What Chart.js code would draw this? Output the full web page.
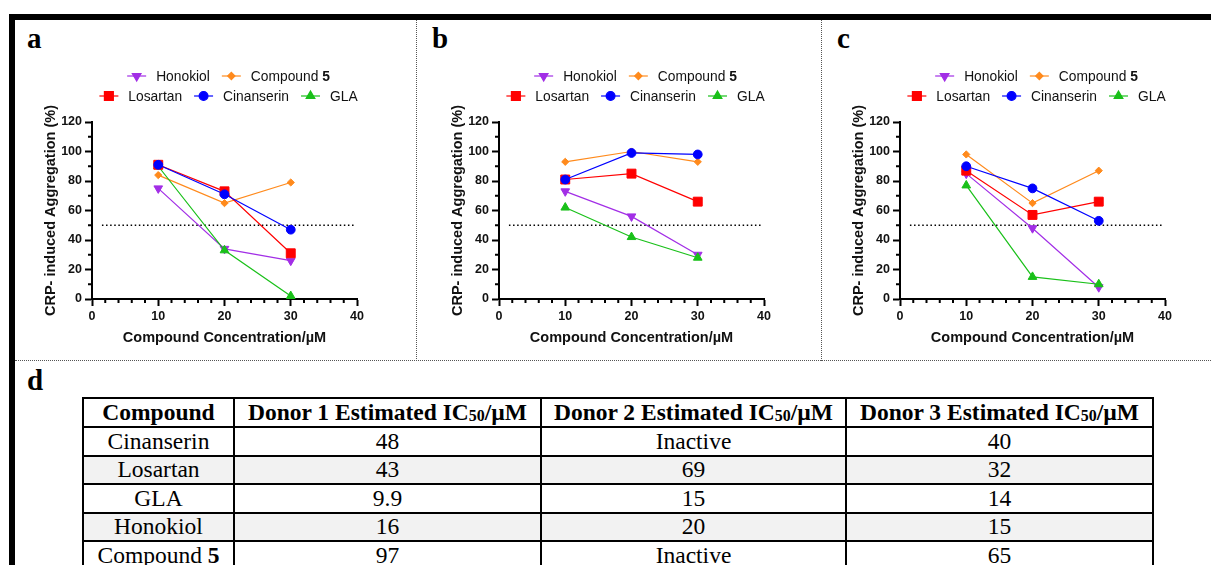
<!DOCTYPE html>
<html>
<head>
<meta charset="utf-8">
<script src="https://cdn.jsdelivr.net/npm/chart.js@4/dist/chart.umd.min.js"></script>
<style>
    html, body { margin: 0; padding: 0; background: #fff; }
    body { width: 1211px; height: 565px; position: relative; overflow: hidden; }
    .bar { position: absolute; background: #000; }
    .vdot { position: absolute; top: 20px; height: 341px; border-left: 1px dotted #555; }
    .hdot { position: absolute; left: 15px; top: 360px; width: 1196px; border-top: 1px dotted #555; }
    .letter { position: absolute; font: bold 29px 'Liberation Serif', 'Times New Roman', serif; line-height: 29px; color: #000; }
    canvas { position: absolute; top: 22px; }
    table {
        position: absolute; left: 82px; top: 397px; width: 1070px;
        border-collapse: collapse; table-layout: fixed;
        font-family: 'Liberation Serif', 'Times New Roman', serif; font-size: 23.5px; color: #000;
    }
    th, td { border: 2px solid #000; padding: 0; text-align: center; line-height: 1; }
    th { height: 27px; font-weight: bold; }
    td { height: 26.5px; }
    tr.shade td { background: #f2f2f2; }
    sub { font-size: 0.68em; vertical-align: -0.05em; }
</style>
</head>
<body>
<div class="bar" style="left:9px; top:14px; width:1202px; height:6px;"></div>
<div class="bar" style="left:9px; top:14px; width:6px; height:551px;"></div>
<div class="vdot" style="left:416px;"></div>
<div class="vdot" style="left:821px;"></div>
<div class="hdot"></div>

<div class="letter" style="left:27px; top:24px;">a</div>
<div class="letter" style="left:432px; top:24px;">b</div>
<div class="letter" style="left:837px; top:24px;">c</div>
<div class="letter" style="left:27px; top:366px;">d</div>

<canvas id="chart-a" width="340" height="329" style="left:38px;"></canvas>
<canvas id="chart-b" width="340" height="329" style="left:445px;"></canvas>
<canvas id="chart-c" width="340" height="329" style="left:846px;"></canvas>

<table id="ic50-table">
    <colgroup>
        <col style="width:151px"><col style="width:307px"><col style="width:305px"><col style="width:307px">
    </colgroup>
    <thead></thead>
    <tbody></tbody>
</table>

<script>
// x values shared by all three panels (µM)
const concentrations = [10, 20, 30];

// Donor 1 (panel a)
const honokiolA = [75, 34, 26];
const compound5A = [84, 65, 79];
const losartanA = [91, 73, 31];
const cinanserinA = [91, 71, 47];
const glaA = [90, 33, 2];

// Donor 2 (panel b)
const honokiolB = [73, 56, 30];
const compound5B = [93, 100, 93];
const losartanB = [81, 85, 66];
const cinanserinB = [81, 99, 98];
const glaB = [62, 42, 28];

// Donor 3 (panel c)
const honokiolC = [85, 48, 8];
const compound5C = [98, 65, 87];
const losartanC = [87, 57, 66];
const cinanserinC = [90, 75, 53];
const glaC = [77, 15, 10];

// 50 % reference line
const thresholdValue = 50;
const thresholdFrom = 1.5;
const thresholdTo = 39.5;

// table (panel d)
const tableHeaders = ['Compound', 'Donor 1 Estimated IC<sub>50</sub>/µM', 'Donor 2 Estimated IC<sub>50</sub>/µM', 'Donor 3 Estimated IC<sub>50</sub>/µM'];
const tableCompounds = ['Cinanserin', 'Losartan', 'GLA', 'Honokiol', 'Compound <b>5</b>'];
const donor1IC50 = ['48', '43', '9.9', '16', '97'];
const donor2IC50 = ['Inactive', '69', '15', '20', 'Inactive'];
const donor3IC50 = ['40', '32', '14', '15', '65'];

const legendRows = [['Honokiol', 'Compound 5'], ['Losartan', 'Cinanserin', 'GLA']];

const SANS = "'Liberation Sans', Arial, sans-serif";

// look of each compound (order = drawing order, lower is on top)
const seriesStyle = {
    'Honokiol':   { color: '#a22ee6', pointStyle: 'triangle', rotation: 180, radius: 5, order: 5 },
    'Compound 5': { color: '#ff8a1c', pointStyle: 'rectRot', rotation: 0, radius: 3.6, order: 4 },
    'Losartan':   { color: '#ff0000', pointStyle: 'rect', rotation: 0, radius: 6.3, order: 2 },
    'Cinanserin': { color: '#0000ff', pointStyle: 'circle', rotation: 0, radius: 4.4, order: 1 },
    'GLA':        { color: '#19c019', pointStyle: 'triangle', rotation: 0, radius: 5, order: 3 }
};

function toPoints(values) {
    return values.map((v, i) => ({ x: concentrations[i], y: v }));
}

function buildDatasets(series) {
    const sets = Object.keys(series).map(name => {
        const s = seriesStyle[name];
        return {
            label: name,
            data: toPoints(series[name]),
            showLine: true,
            borderColor: s.color,
            backgroundColor: s.color,
            borderWidth: 1.2,
            pointStyle: s.pointStyle,
            pointRotation: s.rotation,
            pointRadius: s.radius,
            pointBorderWidth: 1,
            pointBorderColor: s.color,
            pointBackgroundColor: s.color,
            order: s.order
        };
    });
    sets.push({
        label: '',
        data: [{ x: thresholdFrom, y: thresholdValue }, { x: thresholdTo, y: thresholdValue }],
        showLine: true,
        borderColor: '#000',
        borderWidth: 1.5,
        borderDash: [1.5, 2.6],
        pointRadius: 0,
        order: 10
    });
    return sets;
}

// short ticks between the labelled ones
const minorTicks = {
    id: 'minorTicks',
    afterDraw(chart) {
        const { ctx, chartArea, scales } = chart;
        ctx.save();
        ctx.strokeStyle = '#000';
        ctx.lineWidth = 2;
        ctx.beginPath();
        for (let v = 2; v < 40; v += 2) {
            if (v % 10 === 0) continue;
            const px = scales.x.getPixelForValue(v);
            ctx.moveTo(px, chartArea.bottom);
            ctx.lineTo(px, chartArea.bottom + 4);
        }
        for (let v = 10; v < 120; v += 20) {
            const py = scales.y.getPixelForValue(v);
            ctx.moveTo(chartArea.left - 4, py);
            ctx.lineTo(chartArea.left, py);
        }
        ctx.stroke();
        ctx.restore();
    }
};

// two-row legend like the original figure
const rowLegend = {
    id: 'rowLegend',
    afterDraw(chart) {
        const { ctx, chartArea } = chart;
        const lineLen = 19, textGap = 10, itemGap = 12;
        const normalFont = '13.8px ' + SANS;
        const boldFont = 'bold 13.8px ' + SANS;
        const cx = (chartArea.left + chartArea.right) / 2 + 4;

        legendRows.forEach((row, r) => {
            const y = chartArea.top - 46 + r * 20;
            const items = row.map(name => {
                const ds = chart.data.datasets.find(d => d.label === name);
                const m = name.match(/^(.*?)(\d+)$/);
                const plain = m ? m[1] : name;
                const bold = m ? m[2] : '';
                ctx.font = normalFont;
                const w1 = ctx.measureText(plain).width;
                ctx.font = boldFont;
                const w2 = bold ? ctx.measureText(bold).width : 0;
                return { ds, plain, bold, w1, w2, width: lineLen + textGap + w1 + w2 };
            });
            const total = items.reduce((a, it) => a + it.width, 0) + itemGap * (items.length - 1);
            let x = cx - total / 2;
            items.forEach(it => {
                const ds = it.ds;
                ctx.save();
                ctx.strokeStyle = ds.borderColor;
                ctx.lineWidth = 1.2;
                ctx.beginPath();
                ctx.moveTo(x, y);
                ctx.lineTo(x + lineLen, y);
                ctx.stroke();
                ctx.fillStyle = ds.pointBackgroundColor;
                ctx.strokeStyle = ds.pointBorderColor;
                Chart.helpers.drawPoint(ctx, {
                    pointStyle: ds.pointStyle,
                    rotation: ds.pointRotation,
                    radius: ds.pointRadius,
                    borderWidth: 1
                }, x + lineLen / 2, y);
                ctx.restore();

                ctx.save();
                ctx.fillStyle = '#111';
                ctx.textBaseline = 'middle';
                ctx.textAlign = 'left';
                const tx = x + lineLen + textGap;
                ctx.font = normalFont;
                ctx.fillText(it.plain, tx, y + 1);
                if (it.bold) {
                    ctx.font = boldFont;
                    ctx.fillText(it.bold, tx + it.w1, y + 1);
                }
                ctx.restore();
                x += it.width + itemGap;
            });
        });
    }
};

function makeChart(id, series) {
    const tickFont = { family: SANS, size: 12.5, weight: 'bold' };
    const titleFont = { family: SANS, size: 14.5, weight: 'bold' };
    return new Chart(document.getElementById(id), {
        type: 'scatter',
        data: { datasets: buildDatasets(series) },
        options: {
            responsive: false,
            animation: false,
            layout: { padding: { top: 100, right: 21, bottom: 0, left: 0 } },
            plugins: { legend: { display: false }, tooltip: { enabled: false } },
            scales: {
                x: {
                    type: 'linear', min: 0, max: 40,
                    ticks: { stepSize: 10, font: tickFont, color: '#111', padding: 3 },
                    grid: { drawOnChartArea: false, tickLength: 7, tickWidth: 2, tickColor: '#000' },
                    border: { color: '#000', width: 2 },
                    title: { display: true, text: 'Compound Concentration/µM', font: titleFont, color: '#111' },
                    afterFit: scale => { scale.height = 52; }
                },
                y: {
                    type: 'linear', min: 0, max: 120,
                    ticks: { stepSize: 20, font: tickFont, color: '#111', padding: 3 },
                    grid: { drawOnChartArea: false, tickLength: 7, tickWidth: 2, tickColor: '#000' },
                    border: { color: '#000', width: 2 },
                    title: { display: true, text: 'CRP- induced Aggregation (%)', font: titleFont, color: '#111' },
                    afterFit: scale => { scale.width = 54; }
                }
            }
        },
        plugins: [minorTicks, rowLegend]
    });
}

makeChart('chart-a', { 'Honokiol': honokiolA, 'Compound 5': compound5A, 'Losartan': losartanA, 'Cinanserin': cinanserinA, 'GLA': glaA });
makeChart('chart-b', { 'Honokiol': honokiolB, 'Compound 5': compound5B, 'Losartan': losartanB, 'Cinanserin': cinanserinB, 'GLA': glaB });
makeChart('chart-c', { 'Honokiol': honokiolC, 'Compound 5': compound5C, 'Losartan': losartanC, 'Cinanserin': cinanserinC, 'GLA': glaC });

// fill the IC50 table
const thead = document.querySelector('#ic50-table thead');
const tbody = document.querySelector('#ic50-table tbody');
thead.innerHTML = '<tr>' + tableHeaders.map(h => `<th>${h}</th>`).join('') + '</tr>';
tableCompounds.forEach((name, i) => {
    const tr = document.createElement('tr');
    if (i % 2 === 1) tr.className = 'shade';
    tr.innerHTML = [name, donor1IC50[i], donor2IC50[i], donor3IC50[i]].map(v => `<td>${v}</td>`).join('');
    tbody.appendChild(tr);
});
</script>
</body>
</html>
